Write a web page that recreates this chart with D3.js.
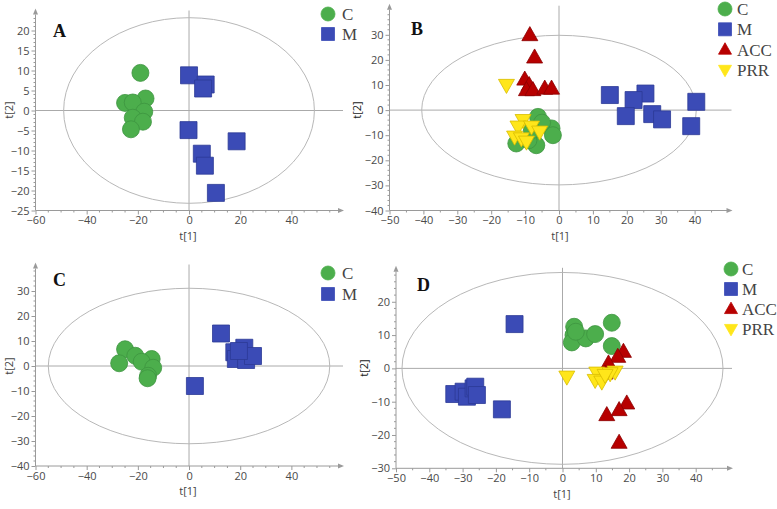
<!DOCTYPE html>
<html>
<head>
<meta charset="utf-8">
<script src="https://cdn.jsdelivr.net/npm/d3@7"></script>
<style>
  html, body { margin: 0; padding: 0; background: #ffffff; }
  svg { display: block; }
</style>
</head>
<body>
<svg id="chart" width="777" height="509"></svg>
<script>
// ---------------- DATA (t[1], t[2]) ----------------
const groups = ["C", "M", "ACC", "PRR"];

const aC = [[-19, 9.4], [-17, 3.0], [-25, 1.9], [-22, 2.0], [-17.5, -0.3], [-22, -1.8], [-18, -2.8], [-22.7, -4.7]];
const aM = [[0, 8.8], [6.5, 6.5], [5.5, 5.5], [-0.2, -4.9], [18.6, -7.7], [5, -10.8], [6.2, -13.8], [10.5, -20.6]];

const bC = [[-6.2, -2.7], [-2.2, -7.3], [-1.8, -10], [-12.6, -13.3], [-6.7, -14], [-9, -12], [-5, -5], [-8, -8]];
const bM = [[15, 6], [25.5, 6.6], [22, 4], [40.5, 3.3], [19.7, -2.4], [27.5, -1.6], [30.4, -3.7], [39, -6.4]];
const bACC = [[-8.6, 29.9], [-7.2, 21], [-10.1, 12.2], [-8.8, 10], [-9.6, 8], [-7.7, 8], [-4.2, 8.6], [-2.2, 8.6]];
const bPRR = [[-15.5, 10], [-10.6, -4], [-12.1, -6.6], [-8.1, -6.6], [-5.7, -8.6], [-13.1, -10.6], [-11.1, -11.3], [-9.6, -12.6]];

const cC = [[-25, 6.7], [-21, 4.1], [-14.6, 2.8], [-18.5, 1.7], [-27.3, 1.1], [-14, -0.7], [-16, -3.9], [-16.2, -4.9]];
const cM = [[12.5, 13], [17.7, 5.5], [21.6, 7.3], [18.3, 2.8], [22.3, 2.4], [25, 4], [2.3, -8], [19.5, 6]];

const dC = [[3.5, 12.5], [3.3, 10], [2.8, 7.8], [7, 9], [9.8, 10.3], [14.8, 13.7], [14.8, 6.7], [4, 11]];
const dM = [[-14.4, 13.3], [-32.5, -7.7], [-29.7, -7], [-28.7, -8.5], [-26.7, -6], [-26.2, -5.5], [-25.7, -8], [-18.2, -12.3]];
const dACC = [[18.3, 5], [16.6, 3.5], [13.8, 1.5], [12.8, -1.5], [19.3, -10.5], [17, -12.5], [13.3, -14], [17, -22.3]];
const dPRR = [[1.3, -2.5], [10.3, -1.3], [15.8, -1], [14.3, -1.5], [9.8, -3.5], [11.8, -4], [12.8, -2]];

// Hotelling T2 ellipse radii [t1, t2]
const ellipseRadii = [[49, 23.2], [40.5, 29.8], [55, 31.1], [48.2, 28.8]];

// tick labels
const xTicksAC = [-60, -40, -20, 0, 20, 40];
const xTicksBD = [-50, -40, -30, -20, -10, 0, 10, 20, 30, 40];
const yTicksA = [-25, -20, -15, -10, -5, 0, 5, 10, 15, 20];
const yTicksB = [-40, -30, -20, -10, 0, 10, 20, 30];
const yTicksC = [-40, -30, -20, -10, 0, 10, 20, 30];
const yTicksD = [-30, -20, -10, 0, 10, 20];

const panelLabels = ["A", "B", "C", "D"];

// ---------------- STYLE ----------------
const style = {
  C:   { fill: "#4cae4c", stroke: "#3e9440", shape: "circle" },
  M:   { fill: "#3b4bb6", stroke: "#2c3a96", shape: "square" },
  ACC: { fill: "#b70000", stroke: "#8c0000", shape: "up" },
  PRR: { fill: "#ffe61a", stroke: "#d8bd00", shape: "down" }
};

const panels = [
  { label: panelLabels[0], series: { C: aC, M: aM }, ell: ellipseRadii[0],
    xd: [-60, 59], xr: [35.5, 340], yd: [-25, 24], yr: [210.5, 14.5],
    xt: xTicksAC, yt: yTicksA, xMinor: 5, yMinor: 1,
    labelPos: [53, 37], legendPos: [328, 14], legendDy: 20, legendTx: 342,
    xTitle: [188, 240], yTitle: [9, 110], dark: false },
  { label: panelLabels[1], series: { C: bC, M: bM, ACC: bACC, PRR: bPRR }, ell: ellipseRadii[1],
    xd: [-50, 50], xr: [389.5, 728.5], yd: [-40, 40], yr: [210.5, 9.7],
    xt: xTicksBD, yt: yTicksB, xMinor: 5, yMinor: 2,
    labelPos: [411, 35], legendPos: [725, 9], legendDy: 20.3, legendTx: 737,
    xTitle: [560, 240], yTitle: [357, 110], dark: true },
  { label: panelLabels[2], series: { C: cC, M: cM }, ell: ellipseRadii[2],
    xd: [-60, 59], xr: [35.5, 340], yd: [-40, 39], yr: [466, 268.5],
    xt: xTicksAC, yt: yTicksC, xMinor: 5, yMinor: 2,
    labelPos: [53, 286], legendPos: [328, 273], legendDy: 21, legendTx: 342,
    xTitle: [188, 495], yTitle: [9, 366], dark: false },
  { label: panelLabels[3], series: { C: dC, M: dM, ACC: dACC, PRR: dPRR }, ell: ellipseRadii[3],
    xd: [-50, 50], xr: [396, 729], yd: [-30, 29], yr: [468.3, 271.8],
    xt: xTicksBD, yt: yTicksD, xMinor: 5, yMinor: 2,
    labelPos: [417, 291], legendPos: [731, 269], legendDy: 20, legendTx: 742,
    xTitle: [562, 498], yTitle: [364, 368], dark: true }
];

const svg = d3.select("#chart");

const axisColor = "#9a9a9a";
const gridColor = "#aaaaaa";
const tickText = "#4a4a4a";

function shapePath(shape, s) {
  const h = s / 2;
  if (shape === "square") return `M${-h},${-h}H${h}V${h}H${-h}Z`;
  if (shape === "up") { const th = s * 0.88; return `M0,${-th * 0.6}L${h},${th * 0.4}L${-h},${th * 0.4}Z`; }
  if (shape === "down") { const th = s * 0.88; return `M0,${th * 0.6}L${h},${-th * 0.4}L${-h},${-th * 0.4}Z`; }
  return null;
}

function drawMarker(g, shape, x, y, s, st) {
  if (shape === "circle") {
    g.append("circle").attr("cx", x).attr("cy", y).attr("r", s / 2)
      .attr("fill", st.fill).attr("stroke", st.stroke).attr("stroke-width", 0.8);
  } else {
    g.append("path").attr("d", shapePath(shape, s))
      .attr("transform", `translate(${x},${y})`)
      .attr("fill", st.fill).attr("stroke", st.stroke).attr("stroke-width", 0.8);
  }
}

panels.forEach(p => {
  const x = d3.scaleLinear().domain(p.xd).range(p.xr);
  const y = d3.scaleLinear().domain(p.yd).range(p.yr);
  const g = svg.append("g");

  const x0 = p.xr[0], x1 = p.xr[1];
  const yBot = p.yr[0], yTop = p.yr[1];

  // zero lines
  g.append("line").attr("x1", x0).attr("x2", x1 + 3).attr("y1", y(0)).attr("y2", y(0))
    .attr("stroke", gridColor).attr("stroke-width", 1);
  g.append("line").attr("x1", x(0)).attr("x2", x(0)).attr("y1", yTop - 4).attr("y2", yBot)
    .attr("stroke", gridColor).attr("stroke-width", 1);

  // ellipse
  g.append("ellipse")
    .attr("cx", x(0)).attr("cy", y(0))
    .attr("rx", x(p.ell[0]) - x(0)).attr("ry", y(0) - y(p.ell[1]))
    .attr("fill", "none").attr("stroke", "#b8b8b8").attr("stroke-width", 1);

  // x axis
  const xAxis = d3.axisBottom(x).tickValues(p.xt).tickSize(4).tickPadding(2).tickFormat(d3.format("d"));
  const gx = g.append("g").attr("transform", `translate(0,${yBot})`).call(xAxis);
  gx.select(".domain").attr("d", `M${x0},0H${x1}`).attr("stroke", axisColor);
  gx.selectAll(".tick line").attr("stroke", axisColor);
  gx.selectAll(".tick text").attr("fill", tickText).style("font-family", "'Open Sans', 'Noto Sans', sans-serif").style("font-size", "11px");
  const xMin = d3.range(Math.ceil(p.xd[0] / p.xMinor) * p.xMinor, p.xd[1], p.xMinor).filter(v => !p.xt.includes(v));
  g.selectAll(null).data(xMin).join("line")
    .attr("x1", d => x(d)).attr("x2", d => x(d)).attr("y1", yBot).attr("y2", yBot + 2)
    .attr("stroke", axisColor);
  g.append("path").attr("d", `M${x1 + 4},${yBot}L${x1 - 2},${yBot - 2.5}L${x1 - 2},${yBot + 2.5}Z`).attr("fill", axisColor);

  // y axis
  const yAxis = d3.axisLeft(y).tickValues(p.yt).tickSize(4).tickPadding(2).tickFormat(d3.format("d"));
  const gy = g.append("g").attr("transform", `translate(${x0},0)`).call(yAxis);
  gy.select(".domain").attr("d", `M0,${yBot}V${yTop}`).attr("stroke", axisColor);
  gy.selectAll(".tick line").attr("stroke", axisColor);
  gy.selectAll(".tick text").attr("fill", tickText).style("font-family", "'Open Sans', 'Noto Sans', sans-serif").style("font-size", "11px");
  const yMin = d3.range(Math.ceil(p.yd[0] / p.yMinor) * p.yMinor, p.yd[1], p.yMinor).filter(v => !p.yt.includes(v));
  g.selectAll(null).data(yMin).join("line")
    .attr("x1", x0 - 2).attr("x2", x0).attr("y1", d => y(d)).attr("y2", d => y(d))
    .attr("stroke", axisColor);
  g.append("path").attr("d", `M${x0},${yTop - 6}L${x0 - 2.5},${yTop}L${x0 + 2.5},${yTop}Z`).attr("fill", axisColor);

  // axis titles
  g.append("text").attr("x", p.xTitle[0]).attr("y", p.xTitle[1]).attr("text-anchor", "middle")
    .attr("fill", "#444").style("font-family", "'Open Sans', 'Noto Sans', sans-serif").style("font-size", "11px")
    .text("t[1]");
  g.append("text").attr("transform", `translate(${p.yTitle[0]},${p.yTitle[1]}) rotate(-90)`)
    .attr("text-anchor", "middle").attr("dy", "0.35em")
    .attr("fill", p.dark ? "#222" : "#444")
    .style("font-family", "'Open Sans', 'Noto Sans', sans-serif").style("font-size", "11px")
    .text("t[2]");

  // points
  const gp = g.append("g");
  Object.keys(p.series).forEach(k => {
    const st = style[k];
    const size = st.shape === "circle" ? 17 : (st.shape === "square" ? 17 : 16);
    p.series[k].forEach(d => drawMarker(gp, st.shape, x(d[0]), y(d[1]), size, st));
  });

  // panel label
  g.append("text").attr("x", p.labelPos[0]).attr("y", p.labelPos[1])
    .style("font-family", "'Liberation Serif', 'Times New Roman', serif")
    .style("font-weight", "bold").style("font-size", "18px").attr("fill", "#111")
    .text(p.label);

  // legend
  const gl = g.append("g");
  Object.keys(p.series).forEach((k, i) => {
    const st = style[k];
    const ly = p.legendPos[1] + i * p.legendDy;
    drawMarker(gl, st.shape, p.legendPos[0], ly, st.shape === "circle" ? 14 : 13, { fill: st.fill, stroke: st.fill });
    gl.append("text").attr("x", p.legendTx).attr("y", ly).attr("dy", "0.36em")
      .style("font-family", "'Liberation Serif', 'Times New Roman', serif")
      .style("font-size", "17px").attr("fill", "#444").text(k);
  });
});
</script>
</body>
</html>
